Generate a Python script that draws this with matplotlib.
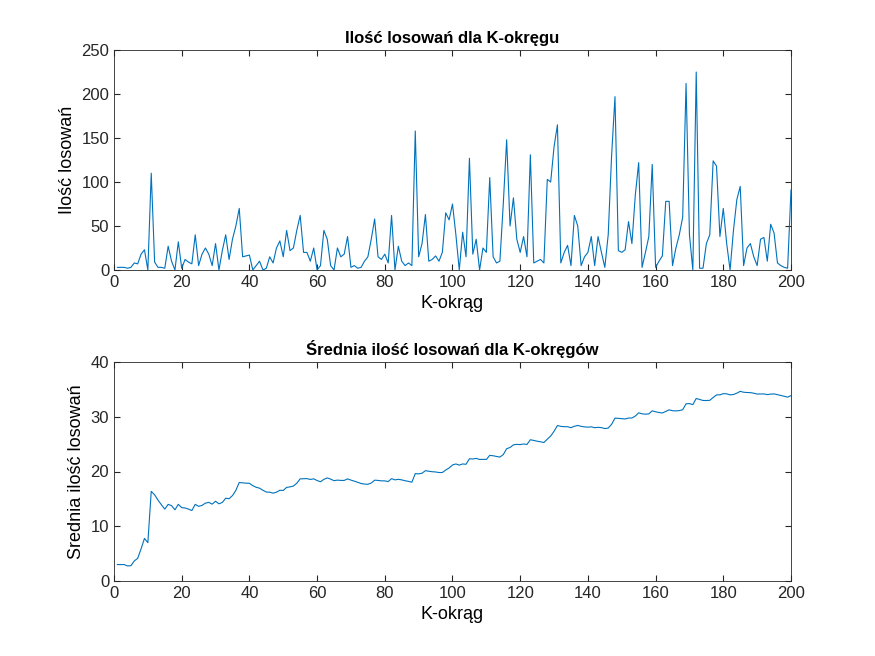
import numpy as np
import matplotlib.pyplot as plt

plt.rcParams['font.family'] = ['Liberation Sans', 'DejaVu Sans']

# liczba losowań dla kolejnych K
losowania = [
    3, 3, 3, 2, 3, 8, 7, 18, 23, 0, 110, 9, 3, 3, 2, 27, 10, 0, 32, 2,
    12, 9, 7, 40, 5, 18, 25, 18, 5, 30, 0, 22, 40, 12, 35, 50, 70, 15, 16, 17,
    0, 5, 10, 0, 2, 15, 8, 25, 33, 15, 45, 22, 25, 45, 62, 20, 20, 10, 25, 0,
    5, 45, 35, 5, 0, 25, 15, 18, 38, 3, 5, 2, 3, 10, 15, 35, 58, 15, 12, 18,
    8, 62, 0, 27, 10, 5, 8, 5, 158, 15, 30, 63, 10, 12, 16, 10, 20, 65, 57, 75,
    40, 0, 43, 15, 127, 18, 35, 0, 25, 20, 105, 15, 8, 10, 75, 148, 50, 82, 35, 20,
    38, 15, 131, 8, 10, 12, 8, 103, 100, 140, 165, 8, 20, 28, 5, 62, 50, 5, 15, 20,
    38, 5, 38, 20, 3, 40, 130, 197, 22, 20, 23, 55, 30, 85, 122, 3, 20, 38, 120, 3,
    10, 16, 78, 78, 5, 25, 40, 60, 212, 40, 0, 225, 2, 2, 30, 40, 124, 118, 38, 70,
    30, 0, 45, 80, 95, 5, 25, 30, 15, 5, 35, 37, 10, 52, 42, 8, 5, 3, 2, 91,
]
k = np.arange(1, len(losowania) + 1)
srednia = np.cumsum(losowania) / k

kolor = '#0072BD'
fig = plt.figure(figsize=(8.75, 6.56), dpi=100)
ax1 = fig.add_axes([114/875, 1 - 270/656, 677/875, 220/656])
ax2 = fig.add_axes([114/875, 1 - 581/656, 677/875, 219/656])

ax1.plot(k, losowania, color=kolor, lw=0.8)
ax1.set_xlim(0, 200); ax1.set_ylim(0, 250)
ax1.set_title('Ilość losowań dla K-okręgu', fontsize=12, fontweight='bold', pad=5)
ax1.set_xlabel('K-okrąg', fontsize=13)
ax1.set_ylabel('Ilość losowań', fontsize=13)

ax2.plot(k, srednia, color=kolor, lw=0.8)
ax2.set_xlim(0, 200); ax2.set_ylim(0, 40)
ax2.set_yticks([0, 10, 20, 30, 40])
ax2.set_title('Średnia ilość losowań dla K-okręgów', fontsize=12, fontweight='bold', pad=5)
ax2.set_xlabel('K-okrąg', fontsize=13)
ax2.set_ylabel('Srednia ilość losowań', fontsize=13)

for ax in (ax1, ax2):
    ax.set_xticks(range(0, 201, 20))
    ax.tick_params(direction='in', top=True, right=True, labelsize=12, colors='#262626', length=4)
    for s in ax.spines.values():
        s.set_color('#262626'); s.set_linewidth(0.6)

fig.savefig('out.png', dpi=100)
